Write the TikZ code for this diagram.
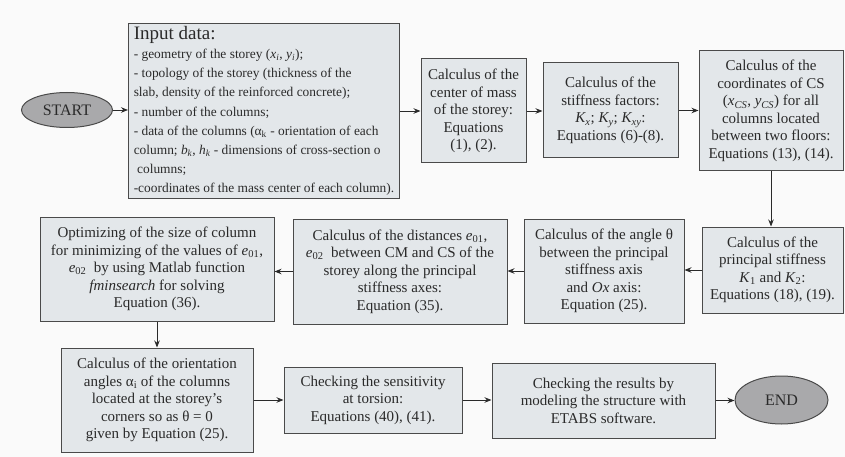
\documentclass[tikz,border=0pt]{standalone}
\usepackage{fontspec}
\setmainfont{Liberation Serif}
\usetikzlibrary{shapes.geometric,arrows.meta}
\definecolor{boxfill}{HTML}{E3E7EA}
\definecolor{boxline}{HTML}{4A4A4A}
\definecolor{ovalfill}{HTML}{A9A9AB}
\definecolor{bgcol}{HTML}{FAFAFA}
\definecolor{txt}{HTML}{2A2A2A}
\newcommand{\sbs}[1]{\textsubscript{#1}}
\tikzset{
  procbox/.style={draw=boxline, line width=1pt, fill=boxfill, rectangle, align=center,
    inner sep=2pt, font=\fontsize{15}{17.5}\selectfont, text=txt},
  oval/.style={draw=boxline, line width=1pt, fill=ovalfill, ellipse, inner sep=0pt,
    font=\fontsize{16}{18}\selectfont, text=txt},
  flow/.style={draw=txt, line width=0.9pt, -{Stealth[length=7pt,width=5.5pt]}}
}
\begin{document}
\begin{tikzpicture}[x=1pt,y=-1pt]
\fill[bgcol] (0,0) rectangle (845,457);
\useasboundingbox (0,0) rectangle (845,457);

\node[oval, minimum width=91pt, minimum height=35pt] (start) at (67,110) {START};
\node[procbox, minimum width=271pt, minimum height=175pt, align=left, anchor=north west,
  inner xsep=4pt, inner ysep=1pt, font=\fontsize{13.4}{19.2}\selectfont] (input) at (128,23)
  {{\fontsize{19}{20}\selectfont Input data:}\\
   - geometry of the storey (\textit{x\sbs{i}}, \textit{y\sbs{i}});\\
   - topology of the storey (thickness of the\\
   slab, density of the reinforced concrete);\\
   - number of the columns;\\
   - data of the columns (α\sbs{k} - orientation of each\\
   column; \textit{b\sbs{k}}, \textit{h\sbs{k}} - dimensions of cross-section o\\
   \ columns;\\
   -coordinates of the mass center of each column).};
\node[procbox, minimum width=105pt, minimum height=104pt] (mass) at (473.5,111)
  {Calculus of the\\center of mass\\of the storey:\\Equations\\(1), (2).};
\node[procbox, minimum width=135pt, minimum height=95pt] (stiff) at (610.5,110.5)
  {Calculus of the\\stiffness factors:\\\textit{K\sbs{x}}; \textit{K\sbs{y}}; \textit{K\sbs{xy}}:\\Equations (6)-(8).};
\node[procbox, minimum width=144pt, minimum height=120pt] (cs) at (771,111)
  {Calculus of the\\coordinates of CS\\(\textit{x\sbs{CS}}, \textit{y\sbs{CS}}) for all\\columns located\\between two floors:\\Equations (13), (14).};
\node[procbox, minimum width=141pt, minimum height=86pt] (princ) at (772.5,270)
  {Calculus of the\\principal stiffness\\\textit{K}\sbs{1} and \textit{K}\sbs{2}:\\Equations (18), (19).};
\node[procbox, minimum width=160pt, minimum height=104pt] (angle) at (604,271)
  {Calculus of the angle θ\\between the principal\\stiffness axis\\and \textit{Ox} axis:\\Equation (25).};
\node[procbox, minimum width=214pt, minimum height=105pt] (dist) at (400,271.5)
  {Calculus of the distances \textit{e}\sbs{01},\\\textit{e}\sbs{02}\ \ between CM and CS of the\\storey along the principal\\stiffness axes:\\Equation (35).};
\node[procbox, minimum width=234pt, minimum height=104pt] (opt) at (157,269)
  {Optimizing of the size of column\\for minimizing of the values of \textit{e}\sbs{01},\\\textit{e}\sbs{02}\ \ by using Matlab function\\\textit{fminsearch} for solving\\Equation (36).};
\node[procbox, minimum width=192pt, minimum height=104pt] (orient) at (157,400)
  {Calculus of the orientation\\angles α\sbs{i} of the columns\\located at the storey’s\\corners so as θ = 0\\given by Equation (25).};
\node[procbox, minimum width=178pt, minimum height=66pt] (sens) at (373,400)
  {Checking the sensitivity\\at torsion:\\Equations (40), (41).};
\node[procbox, minimum width=223pt, minimum height=75pt] (etabs) at (603.5,400.5)
  {Checking the results by\\modeling the structure with\\ETABS software.};
\node[oval, minimum width=93pt, minimum height=48pt] (end) at (781.5,400) {END};

\draw[flow] (start.east) -- (start.east -| input.west);
\draw[flow] (input.east |- mass.west) -- (mass.west);
\draw[flow] (mass.east) -- (mass.east -| stiff.west);
\draw[flow] (stiff.east) -- (stiff.east -| cs.west);
\draw[flow] (cs.south) -- (cs.south |- princ.north);
\draw[flow] (princ.west) -- (princ.west -| angle.east);
\draw[flow] (angle.west) -- (angle.west -| dist.east);
\draw[flow] (dist.west) -- (dist.west -| opt.east);
\draw[flow] (opt.south) -- (opt.south |- orient.north);
\draw[flow] (orient.east) -- (orient.east -| sens.west);
\draw[flow] (sens.east) -- (sens.east -| etabs.west);
\draw[flow] (etabs.east) -- (etabs.east -| end.west);
\end{tikzpicture}
\end{document}
